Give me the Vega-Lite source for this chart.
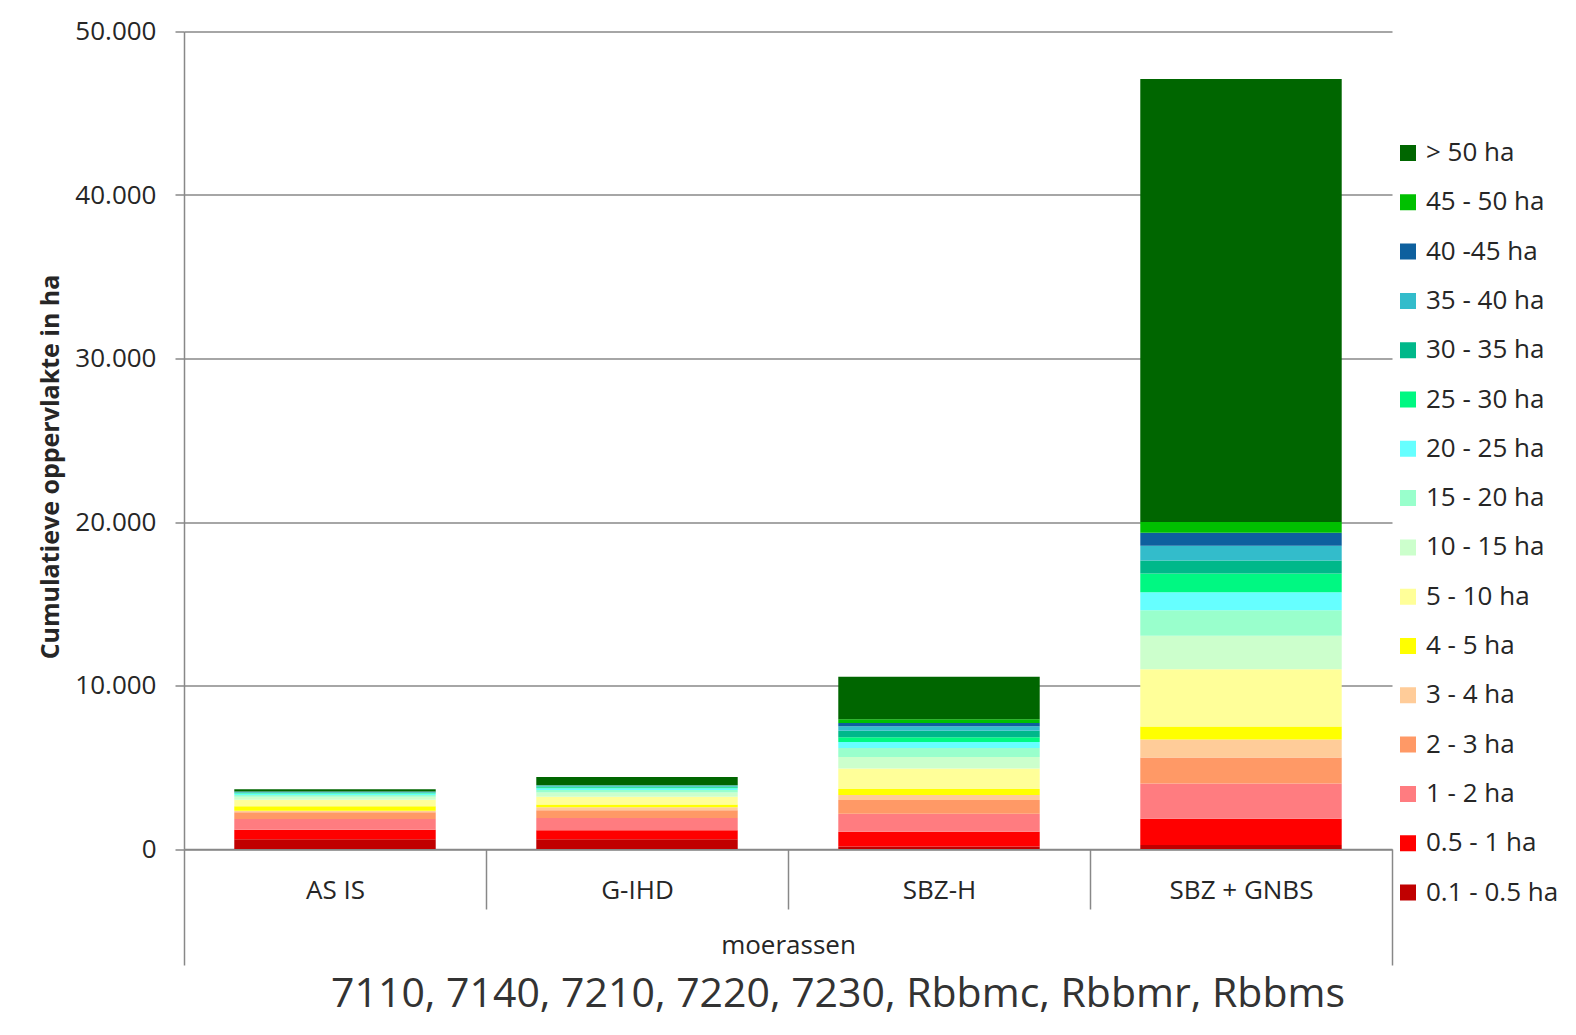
{
  "$schema": "https://vega.github.io/schema/vega-lite/v6.json",
  "width": 1208,
  "height": 817.5,
  "autosize": {"type": "none"},
  "padding": {"left": 184, "top": 31.5, "right": 184, "bottom": 186},
  "background": "white",
  "config": {"font": "Open Sans", "view": {"stroke": null}},
  "title": {
    "text": "7110, 7140, 7210, 7220, 7230, Rbbmc, Rbbmr, Rbbms",
    "orient": "bottom",
    "anchor": "middle",
    "fontSize": 41,
    "fontWeight": "normal",
    "color": "#333333",
    "dx": 50,
    "offset": 9
  },
  "data": {
    "values": [
      {"scenario": "AS IS", "nr": 1, "klasse": "0.1 -  0.5 ha", "opp": 600},
      {"scenario": "AS IS", "nr": 2, "klasse": "0.5 - 1 ha", "opp": 580},
      {"scenario": "AS IS", "nr": 3, "klasse": "1 - 2 ha", "opp": 660},
      {"scenario": "AS IS", "nr": 4, "klasse": "2 - 3 ha", "opp": 410},
      {"scenario": "AS IS", "nr": 5, "klasse": "3 - 4 ha", "opp": 90},
      {"scenario": "AS IS", "nr": 6, "klasse": "4 - 5 ha", "opp": 270},
      {"scenario": "AS IS", "nr": 7, "klasse": "5 - 10 ha", "opp": 400},
      {"scenario": "AS IS", "nr": 8, "klasse": "10 - 15 ha", "opp": 190},
      {"scenario": "AS IS", "nr": 9, "klasse": "15 - 20 ha", "opp": 100},
      {"scenario": "AS IS", "nr": 10, "klasse": "20 - 25 ha", "opp": 90},
      {"scenario": "AS IS", "nr": 11, "klasse": "25 - 30 ha", "opp": 40},
      {"scenario": "AS IS", "nr": 12, "klasse": "30 - 35 ha", "opp": 30},
      {"scenario": "AS IS", "nr": 13, "klasse": "35 - 40 ha", "opp": 30},
      {"scenario": "AS IS", "nr": 14, "klasse": "40 -45 ha", "opp": 20},
      {"scenario": "AS IS", "nr": 15, "klasse": "45 - 50 ha", "opp": 20},
      {"scenario": "AS IS", "nr": 16, "klasse": "> 50 ha", "opp": 120},
      {"scenario": "G-IHD", "nr": 1, "klasse": "0.1 -  0.5 ha", "opp": 600},
      {"scenario": "G-IHD", "nr": 2, "klasse": "0.5 - 1 ha", "opp": 550},
      {"scenario": "G-IHD", "nr": 3, "klasse": "1 - 2 ha", "opp": 750},
      {"scenario": "G-IHD", "nr": 4, "klasse": "2 - 3 ha", "opp": 470},
      {"scenario": "G-IHD", "nr": 5, "klasse": "3 - 4 ha", "opp": 180},
      {"scenario": "G-IHD", "nr": 6, "klasse": "4 - 5 ha", "opp": 170},
      {"scenario": "G-IHD", "nr": 7, "klasse": "5 - 10 ha", "opp": 470},
      {"scenario": "G-IHD", "nr": 8, "klasse": "10 - 15 ha", "opp": 270},
      {"scenario": "G-IHD", "nr": 9, "klasse": "15 - 20 ha", "opp": 150},
      {"scenario": "G-IHD", "nr": 10, "klasse": "20 - 25 ha", "opp": 100},
      {"scenario": "G-IHD", "nr": 11, "klasse": "25 - 30 ha", "opp": 60},
      {"scenario": "G-IHD", "nr": 12, "klasse": "30 - 35 ha", "opp": 60},
      {"scenario": "G-IHD", "nr": 13, "klasse": "35 - 40 ha", "opp": 50},
      {"scenario": "G-IHD", "nr": 14, "klasse": "40 -45 ha", "opp": 20},
      {"scenario": "G-IHD", "nr": 15, "klasse": "45 - 50 ha", "opp": 20},
      {"scenario": "G-IHD", "nr": 16, "klasse": "> 50 ha", "opp": 480},
      {"scenario": "SBZ-H", "nr": 1, "klasse": "0.1 -  0.5 ha", "opp": 150},
      {"scenario": "SBZ-H", "nr": 2, "klasse": "0.5 - 1 ha", "opp": 900},
      {"scenario": "SBZ-H", "nr": 3, "klasse": "1 - 2 ha", "opp": 1100},
      {"scenario": "SBZ-H", "nr": 4, "klasse": "2 - 3 ha", "opp": 850},
      {"scenario": "SBZ-H", "nr": 5, "klasse": "3 - 4 ha", "opp": 300},
      {"scenario": "SBZ-H", "nr": 6, "klasse": "4 - 5 ha", "opp": 370},
      {"scenario": "SBZ-H", "nr": 7, "klasse": "5 - 10 ha", "opp": 1250},
      {"scenario": "SBZ-H", "nr": 8, "klasse": "10 - 15 ha", "opp": 700},
      {"scenario": "SBZ-H", "nr": 9, "klasse": "15 - 20 ha", "opp": 550},
      {"scenario": "SBZ-H", "nr": 10, "klasse": "20 - 25 ha", "opp": 370},
      {"scenario": "SBZ-H", "nr": 11, "klasse": "25 - 30 ha", "opp": 300},
      {"scenario": "SBZ-H", "nr": 12, "klasse": "30 - 35 ha", "opp": 400},
      {"scenario": "SBZ-H", "nr": 13, "klasse": "35 - 40 ha", "opp": 270},
      {"scenario": "SBZ-H", "nr": 14, "klasse": "40 -45 ha", "opp": 200},
      {"scenario": "SBZ-H", "nr": 15, "klasse": "45 - 50 ha", "opp": 220},
      {"scenario": "SBZ-H", "nr": 16, "klasse": "> 50 ha", "opp": 2600},
      {"scenario": "SBZ + GNBS", "nr": 1, "klasse": "0.1 -  0.5 ha", "opp": 250},
      {"scenario": "SBZ + GNBS", "nr": 2, "klasse": "0.5 - 1 ha", "opp": 1600},
      {"scenario": "SBZ + GNBS", "nr": 3, "klasse": "1 - 2 ha", "opp": 2150},
      {"scenario": "SBZ + GNBS", "nr": 4, "klasse": "2 - 3 ha", "opp": 1600},
      {"scenario": "SBZ + GNBS", "nr": 5, "klasse": "3 - 4 ha", "opp": 1100},
      {"scenario": "SBZ + GNBS", "nr": 6, "klasse": "4 - 5 ha", "opp": 800},
      {"scenario": "SBZ + GNBS", "nr": 7, "klasse": "5 - 10 ha", "opp": 3500},
      {"scenario": "SBZ + GNBS", "nr": 8, "klasse": "10 - 15 ha", "opp": 2050},
      {"scenario": "SBZ + GNBS", "nr": 9, "klasse": "15 - 20 ha", "opp": 1550},
      {"scenario": "SBZ + GNBS", "nr": 10, "klasse": "20 - 25 ha", "opp": 1100},
      {"scenario": "SBZ + GNBS", "nr": 11, "klasse": "25 - 30 ha", "opp": 1150},
      {"scenario": "SBZ + GNBS", "nr": 12, "klasse": "30 - 35 ha", "opp": 800},
      {"scenario": "SBZ + GNBS", "nr": 13, "klasse": "35 - 40 ha", "opp": 900},
      {"scenario": "SBZ + GNBS", "nr": 14, "klasse": "40 -45 ha", "opp": 800},
      {"scenario": "SBZ + GNBS", "nr": 15, "klasse": "45 - 50 ha", "opp": 650},
      {"scenario": "SBZ + GNBS", "nr": 16, "klasse": "> 50 ha", "opp": 27100}
    ]
  },
  "mark": {"type": "bar", "width": {"band": 0.667}},
  "encoding": {
    "x": {
      "field": "scenario",
      "type": "nominal",
      "sort": ["AS IS", "G-IHD", "SBZ-H", "SBZ + GNBS"],
      "scale": {"paddingInner": 0, "paddingOuter": 0},
      "axis": {
        "title": "moerassen",
        "titleFontSize": 26,
        "titleFontWeight": "normal",
        "titleColor": "#262626",
        "titleY": 104,
        "titleBaseline": "alphabetic",
        "labelAngle": 0,
        "labelFontSize": 26,
        "labelColor": "#262626",
        "labelBaseline": "top",
        "labelPadding": {"condition": {"test": "datum.index === 1", "value": -88}, "value": -32},
        "tickBand": "extent",
        "tickSize": {"condition": {"test": "datum.index === -1 || datum.index === 1", "value": 116}, "value": 60},
        "tickColor": "#888888",
        "tickWidth": 1.5,
        "domainColor": "#888888",
        "domainWidth": 1.5,
        "grid": false
      }
    },
    "y": {
      "field": "opp",
      "type": "quantitative",
      "stack": "zero",
      "scale": {"domain": [0, 50000], "nice": false},
      "axis": {
        "title": "Cumulatieve oppervlakte in ha",
        "titleFontSize": 25,
        "titleFontWeight": "bold",
        "titleColor": "#262626",
        "titleX": -126,
        "titleY": 435,
        "titleAngle": -90,
        "titleAlign": "center",
        "titleBaseline": "alphabetic",
        "values": [0, 10000, 20000, 30000, 40000, 50000],
        "labelExpr": "replace(format(datum.value, ','), ',', '.')",
        "labelFontSize": 26,
        "labelColor": "#262626",
        "labelPadding": 19,
        "tickSize": 9,
        "tickColor": "#888888",
        "tickWidth": 1.5,
        "domainColor": "#888888",
        "domainWidth": 1.5,
        "grid": true,
        "gridColor": "#888888",
        "gridWidth": 1.5
      }
    },
    "color": {
      "field": "klasse",
      "type": "nominal",
      "scale": {
        "domain": ["> 50 ha", "45 - 50 ha", "40 -45 ha", "35 - 40 ha", "30 - 35 ha", "25 - 30 ha", "20 - 25 ha", "15 - 20 ha", "10 - 15 ha", "5 - 10 ha", "4 - 5 ha", "3 - 4 ha", "2 - 3 ha", "1 - 2 ha", "0.5 - 1 ha", "0.1 -  0.5 ha"],
        "range": ["#006600", "#00C000", "#0E609E", "#33BCCB", "#00B88A", "#00F882", "#66FFFF", "#99FFCC", "#CCFFCC", "#FFFF99", "#FFFF00", "#FFCC99", "#FF9966", "#FF7C80", "#FF0000", "#C00000"]
      },
      "legend": {
        "orient": "none",
        "legendX": 1211,
        "legendY": 109,
        "title": null,
        "padding": 0,
        "symbolType": "square",
        "symbolSize": 256,
        "symbolStrokeWidth": 0,
        "symbolOpacity": 1,
        "labelFontSize": 26,
        "labelColor": "#262626",
        "labelOffset": 5,
        "labelLimit": 300,
        "clipHeight": 25,
        "rowPadding": 22.3
      }
    },
    "order": {"field": "nr", "type": "quantitative", "sort": "ascending"}
  }
}
